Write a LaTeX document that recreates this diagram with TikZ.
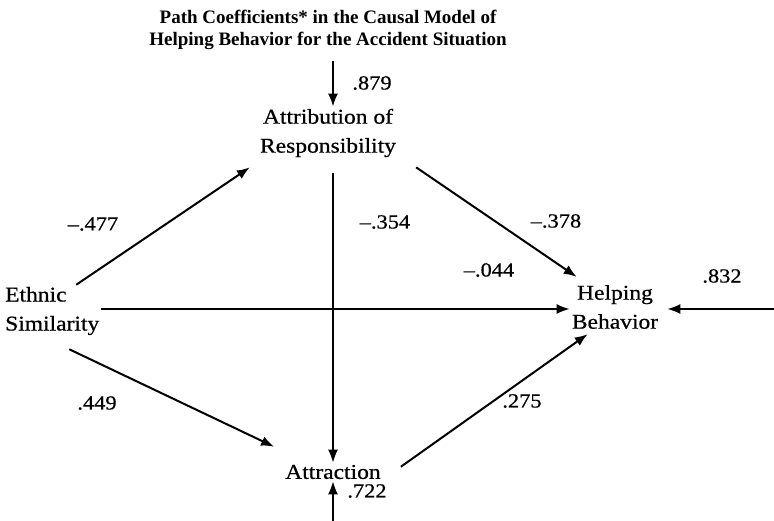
\documentclass[tikz,border=0pt]{standalone}
\usepackage{fontspec}
\setmainfont{Liberation Serif}
\newfontfamily\widefont[FakeStretch=1.12,FakeBold=0.6]{Liberation Serif}
\usetikzlibrary{arrows.meta}

\begin{document}
\begin{tikzpicture}[x=1pt, y=-1pt,
  var/.style={font=\widefont\fontsize{21}{29}\selectfont, inner sep=2pt, align=center},
  coef/.style={font=\widefont\fontsize{20}{22}\selectfont, inner sep=1pt},
  arr/.style={line width=2pt, -{Latex[length=13pt,width=10pt]}}]
\useasboundingbox (0,0) rectangle (774,521);
% title
\node[font=\bfseries\fontsize{19}{22}\selectfont, align=center] (title) at (328,30)
  {Path Coefficients* in the Causal Model of\\Helping Behavior for the Accident Situation};
% variables
\node[var] (attrib) at (328,133) {Attribution of\\Responsibility};
\node[var, align=left, anchor=west] (ethnic) at (3,311) {Ethnic\\Similarity};
\node[var] (helping) at (615,307) {Helping\\Behavior};
\node[var] (attract) at (333,472) {Attraction};
% free ends of the residual paths
\coordinate (top) at (333,61);
\coordinate (bottom) at (333,521);
\coordinate (right) at (774,309);
% paths
\draw[arr] (top) -- (attrib.north -| top);
\draw[arr] (bottom) -- (attract.south -| bottom);
\draw[arr] (right) -- ([xshift=7pt]helping.east |- right);
\draw[arr, shorten <=14pt] (attrib.south -| top) -- (attract.north -| top);
\draw[arr] ([xshift=24pt]ethnic.north) -- ([xshift=-8pt,yshift=-8pt]attrib.south west);
\draw[arr] ([xshift=18pt,yshift=-8pt]attrib.south east) -- ([xshift=7pt,yshift=6pt]helping.north west);
\draw[arr] (ethnic.east |- right) -- (helping.west |- right);
\draw[arr] ([xshift=17pt,yshift=-12pt]ethnic.south) -- ([xshift=-9pt,yshift=16pt]attract.north west);
\draw[arr] ([xshift=18pt,yshift=-4pt]attract.north east) -- ([xshift=18pt,yshift=-3pt]helping.south west);
% coefficients
\node[coef] (c879) at (372,83) {.879};
\node[coef] (c354) at (385,222) {\textendash.354};
\node[coef] (c477) at (93,224) {\textendash.477};
\node[coef] (c378) at (556,221) {\textendash.378};
\node[coef] (c044) at (489,270) {\textendash.044};
\node[coef] (c449) at (97,403) {.449};
\node[coef] (c275) at (522,401) {.275};
\node[coef] (c832) at (722,276) {.832};
\node[coef] (c722) at (367,491) {.722};
\end{tikzpicture}
\end{document}
